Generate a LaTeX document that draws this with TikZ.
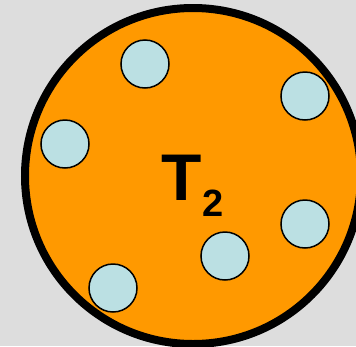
\documentclass[tikz,border=0pt]{standalone}
\usepackage{fontspec}
\setmainfont{Liberation Sans}
\definecolor{bg}{HTML}{DDDDDD}
\definecolor{cellor}{HTML}{FF9900}
\definecolor{dotblue}{HTML}{BBE0E3}
\tikzset{
  cell/.style={circle, draw=black, line width=8pt, fill=cellor, minimum size=336pt, inner sep=0pt},
  dot/.style={circle, draw=black, line width=1.5pt, fill=dotblue, minimum size=48pt, inner sep=0pt},
  lbl/.style={inner sep=0pt, font=\bfseries\fontsize{66}{66}\selectfont}
}
\begin{document}
\begin{tikzpicture}[x=1pt,y=-1pt]
\fill[bg] (0,0) rectangle (356,346);
\useasboundingbox (0,0) rectangle (356,346);
\begin{scope}
\clip (0,0) rectangle (356,346);
\node[cell] (c) at (193,176) {};
\end{scope}
\node[dot] (d1) at (145,64) {};
\node[dot] (d2) at (305,96) {};
\node[dot] (d3) at (65,144) {};
\node[dot] (d4) at (305,224) {};
\node[dot] (d5) at (225,256) {};
\node[dot] (d6) at (113,288) {};
\node[lbl, anchor=base west] (t) at (161.5,200) {T\raisebox{-16pt}{\fontsize{38}{38}\selectfont 2}};
\end{tikzpicture}
\end{document}
